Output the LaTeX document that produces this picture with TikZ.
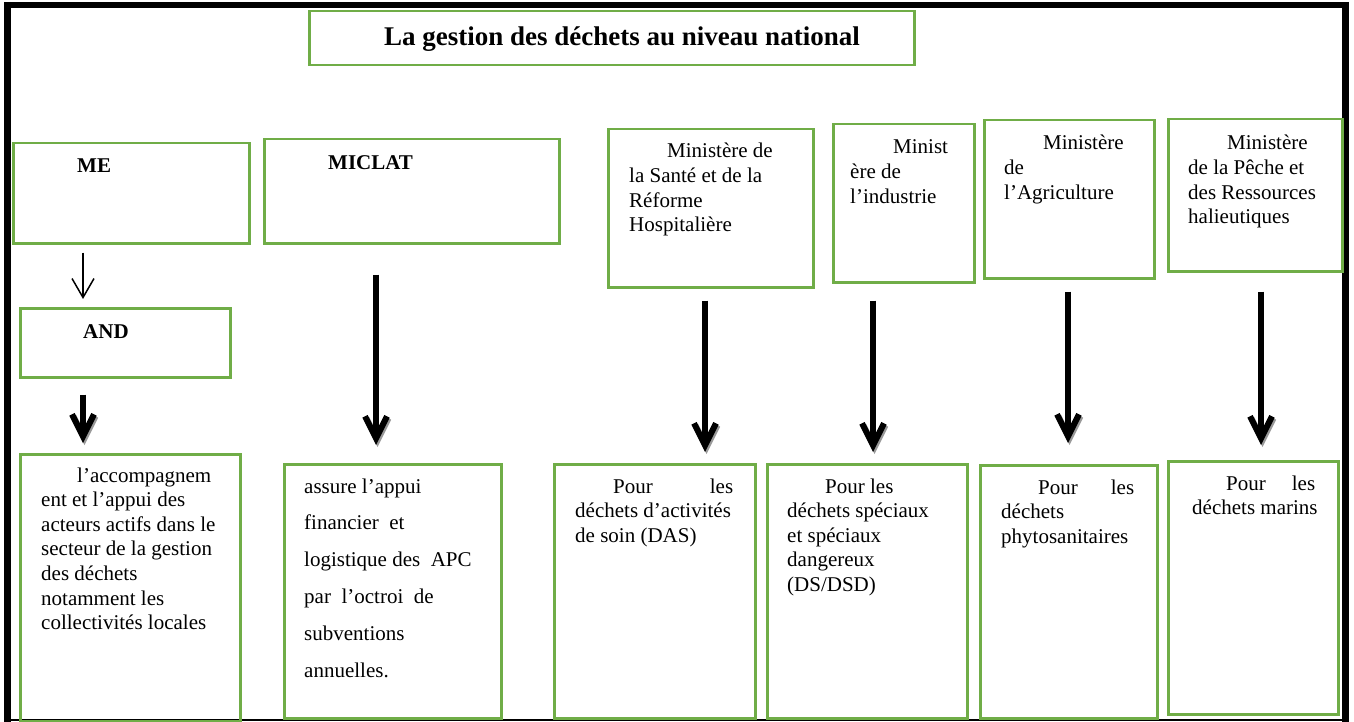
\documentclass[tikz,border=0pt]{standalone}
\usepackage{fontspec}
\setmainfont{Liberation Serif}
\usetikzlibrary{arrows.meta}
\definecolor{boxgreen}{HTML}{70AD47}
\begin{document}
\begin{tikzpicture}[x=1pt,y=-1pt,
  gbox/.style={draw=boxgreen, line width=2.5pt, rectangle, inner sep=0pt, anchor=north west},
  txt/.style={inner sep=0pt, anchor=base west, font=\fontsize{21}{24.6}\selectfont},
  txtwide/.style={inner sep=0pt, anchor=base west, font=\fontsize{21}{36.8}\selectfont},
  boldtxt/.style={inner sep=0pt, anchor=base west, font=\fontsize{21}{24.6}\selectfont\bfseries},
  titletxt/.style={inner sep=0pt, anchor=base, font=\fontsize{27}{32}\selectfont\bfseries},
  thinarrow/.style={line width=1.5pt, -{Straight Barb[length=19pt,width=22pt]}},
  bigarrow/.style={line width=6pt, -{Straight Barb[length=22pt,width=22pt,line width=6pt]}},
  shadowarrow/.style={line width=0.5pt, draw=black!40, -{Straight Barb[length=22pt,width=22pt,line width=6pt]}, transform canvas={xshift=1.5pt,yshift=-2pt}}
]
\useasboundingbox (0,0) rectangle (1354,722);
% frame
\draw[line width=6pt] (4,5) -- (1349,5);
\draw[line width=7pt] (7.5,2) -- (7.5,722);
\draw[line width=7pt] (1345.5,2) -- (1345.5,722);
\draw[line width=2pt] (7.5,720) -- (1345.5,720);

% boxes
\node[gbox, minimum width=605pt, minimum height=54pt] (title) at (308,10) {};
\node[gbox, minimum width=236pt, minimum height=100pt] (me) at (12,142) {};
\node[gbox, minimum width=295pt, minimum height=104pt] (miclat) at (263,138) {};
\node[gbox, minimum width=205pt, minimum height=158pt] (sante) at (607,128) {};
\node[gbox, minimum width=141pt, minimum height=158pt] (indus) at (832,123) {};
\node[gbox, minimum width=170pt, minimum height=158pt] (agri) at (983,119) {};
\node[gbox, minimum width=174pt, minimum height=152pt] (peche) at (1167,118) {};
\node[gbox, minimum width=210pt, minimum height=69pt] (and) at (19,307) {};
\node[gbox, minimum width=220pt, minimum height=267pt] (accomp) at (19,453) {};
\node[gbox, minimum width=217pt, minimum height=254pt] (assure) at (283,463) {};
\node[gbox, minimum width=201pt, minimum height=254pt] (das) at (553,463) {};
\node[gbox, minimum width=200pt, minimum height=254pt] (ds) at (766,463) {};
\node[gbox, minimum width=177pt, minimum height=253pt] (phyto) at (979,464) {};
\node[gbox, minimum width=170pt, minimum height=253pt] (marins) at (1167,460) {};

% texts
\node[titletxt] (titleT) at (622,46) {La gestion des déchets au niveau national};
\node[boldtxt] (meT) at (77,173) {ME};
\node[boldtxt] (miclatT) at (328,170) {MICLAT};
\node[boldtxt] (andT) at (83,338) {AND};

\node[txt] (santeT) at (629,158) {\parbox[t]{300pt}{\hspace*{38pt}Ministère de\\la Santé et de la\\Réforme\\Hospitalière}};
\node[txt] (indusT) at (850,154) {\parbox[t]{300pt}{\hspace*{43pt}Minist\\ère de\\l’industrie}};
\node[txt] (agriT) at (1004,150) {\parbox[t]{300pt}{\hspace*{39pt}Ministère\\de\\l’Agriculture}};
\node[txt] (pecheT) at (1188,150) {\parbox[t]{300pt}{\hspace*{39pt}Ministère\\de la Pêche et\\des Ressources\\halieutiques}};

\node[txt] (accompT) at (41,482) {\parbox[t]{300pt}{\hspace*{36pt}l’accompagnem\\ent et l’appui des\\acteurs actifs dans le\\secteur de la gestion\\des déchets\\notamment les\\collectivités locales}};
\node[txtwide] (assureT) at (304,493) {\parbox[t]{300pt}{assure l’appui\\financier\ \ et\\logistique des\ \ APC\\par\ \ l’octroi\ \ de\\subventions\\annuelles.}};
\node[txt] (dasT) at (575,493) {\parbox[t]{300pt}{\makebox[158pt][l]{\hspace*{38pt}Pour\hfill les}\\déchets d’activités\\de soin (DAS)}};
\node[txt] (dsT) at (787,493) {\parbox[t]{300pt}{\hspace*{38pt}Pour les\\déchets spéciaux\\et spéciaux\\dangereux\\(DS/DSD)}};
\node[txt] (phytoT) at (1001,494) {\parbox[t]{300pt}{\makebox[133pt][l]{\hspace*{37pt}Pour\hfill les}\\déchets\\phytosanitaires}};
\node[txt] (marinsT) at (1192,490) {\parbox[t]{300pt}{\makebox[123pt][l]{\hspace*{34pt}Pour\hfill les}\\déchets marins}};

% arrows
\draw[thinarrow, shorten <=8pt, shorten >=8pt] (me.south -| 83,0) -- (and.north -| 83,0);

\draw[shadowarrow, shorten <=16pt, shorten >=10pt] (and.south -| 83,0) -- (accomp.north -| 83,0);
\draw[bigarrow, shorten <=16pt, shorten >=10pt] (and.south -| 83,0) -- (accomp.north -| 83,0);

\draw[shadowarrow, shorten <=30pt, shorten >=18pt] (miclat.south -| 376,0) -- (assure.north -| 376,0);
\draw[bigarrow, shorten <=30pt, shorten >=18pt] (miclat.south -| 376,0) -- (assure.north -| 376,0);

\draw[shadowarrow, shorten <=12pt, shorten >=11pt] (sante.south -| 705,0) -- (das.north -| 705,0);
\draw[bigarrow, shorten <=12pt, shorten >=11pt] (sante.south -| 705,0) -- (das.north -| 705,0);

\draw[shadowarrow, shorten <=17pt, shorten >=11pt] (indus.south -| 873,0) -- (ds.north -| 873,0);
\draw[bigarrow, shorten <=17pt, shorten >=11pt] (indus.south -| 873,0) -- (ds.north -| 873,0);

\draw[shadowarrow, shorten <=12pt, shorten >=21pt] (agri.south -| 1068,0) -- (phyto.north -| 1068,0);
\draw[bigarrow, shorten <=12pt, shorten >=21pt] (agri.south -| 1068,0) -- (phyto.north -| 1068,0);

\draw[shadowarrow, shorten <=19pt, shorten >=15pt] (peche.south -| 1261,0) -- (marins.north -| 1261,0);
\draw[bigarrow, shorten <=19pt, shorten >=15pt] (peche.south -| 1261,0) -- (marins.north -| 1261,0);
\end{tikzpicture}
\end{document}
